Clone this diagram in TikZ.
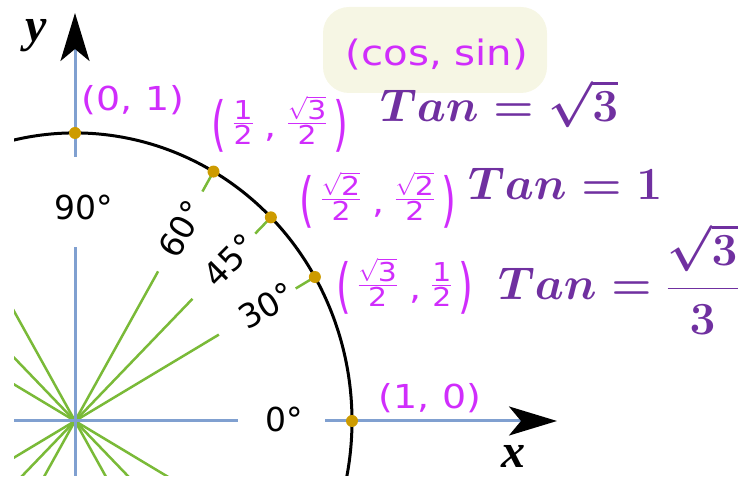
\documentclass[tikz,border=0pt]{standalone}
\usepackage{fix-cm}
\usepackage{amsmath}
\usepackage{fontspec}
\usepackage{graphicx}
\newfontfamily\dv{DejaVu Sans}
\newfontfamily\dvw[FakeStretch=1.15]{DejaVu Sans}
\newfontfamily\lser{Liberation Serif}
\usetikzlibrary{arrows.meta}
\definecolor{mag}{RGB}{208,45,252}
\definecolor{tanpurple}{RGB}{112,48,160}
\definecolor{axisblue}{RGB}{128,160,208}
\definecolor{raygreen}{RGB}{122,186,56}
\definecolor{dotgold}{RGB}{205,155,0}
\definecolor{boxbeige}{RGB}{246,246,228}
\newcommand{\lpar}{\raisebox{-12pt}{\scalebox{1}[1.8]{(}}}
\newcommand{\rpar}{\raisebox{-12pt}{\scalebox{1}[1.8]{)}}}
\newcommand{\fd}[1]{\hbox{\fontsize{26}{26}\selectfont #1}}
\newcommand{\fr}[2]{$\genfrac{}{}{}{1}{#1}{#2}$}
\newcommand{\cm}{\hspace{11pt}\raisebox{-5pt}{,}\hspace{10pt}}
\tikzset{
  coordlbl/.style={text=mag, font=\dvw\fontsize{33}{36}\selectfont, inner sep=0pt},
  deglbl/.style={text=black, font=\dv\fontsize{33}{36}\selectfont, inner sep=0pt},
  tanlbl/.style={text=tanpurple, font=\fontsize{46}{50}\selectfont\boldmath, inner sep=0pt, anchor=base west},
  axislbl/.style={font=\lser\itshape\bfseries\fontsize{48}{50}\selectfont, inner sep=0pt},
  golddot/.style={circle, fill=dotgold, inner sep=0pt, minimum size=12pt},
  ray/.style={raygreen, line width=2.5pt},
  axisline/.style={axisblue, line width=3pt},
  unitarc/.style={black, line width=3pt},
  tip/.style={-{Stealth[black,length=48pt,width=29pt,inset=12pt]}}
}
\begin{document}
\begin{tikzpicture}[x=1pt,y=1pt]
\useasboundingbox (0,0) rectangle (753,486);
\coordinate (O) at (75,65);
% cos/sin box
\node[fill=boxbeige, rounded corners=26pt, minimum width=224pt, minimum height=86pt, inner sep=0pt] (box) at (435,436) {};
\node[coordlbl, font=\dvw\fontsize{35}{38}\selectfont] (cs) at (437,431) {(cos, sin)};
\begin{scope}
\clip (14,10) rectangle (753,486);
\foreach \a in {30,45,60,120,135,150,210,225,240,300,315,330}{
  \draw[ray] (O) -- ++(\a:0.6*277 and 0.6*288);
}
\foreach \a in {30,45,60}{
  \draw[ray] (O) ++(\a:0.92*277 and 0.92*288) -- ++(\a:0.08*277 and 0.08*288);
}
\draw[axisline] (75,10) -- (75,239);
\draw[axisline] (14,65) -- (238,65);
\draw[unitarc] (O) ++(112:277 and 288) arc[start angle=112, end angle=-30, x radius=277, y radius=288];
\end{scope}
\coordinate (ytip) at (75,473);
\coordinate (xtip) at (557,65);
\draw[axisline, tip] (75,329) -- (ytip);
\draw[axisline, tip] (325,65) -- (xtip);
% dots
\foreach \a/\n in {90/d90,60/d60,45/d45,30/d30,0/d0}{
  \path (O) ++(\a:277 and 288) node[golddot] (\n) {};
}
% axis labels
\node[axislbl] (ylbl) at (36,450) {y};
\node[axislbl] (xlbl) at (513,30) {x};
% degree labels
\node[deglbl] (g90) at (84,279) {90°};
\path (O) ++(60:0.77*277 and 0.77*288) node[deglbl, rotate=60] (g60) {60°};
\path (O) ++(45:0.79*277 and 0.79*288) node[deglbl, rotate=45] (g45) {45°};
\path (O) ++(30:0.80*277 and 0.80*288) node[deglbl, rotate=30] (g30) {30°};
\node[deglbl] (g0) at (284,67) {0°};
% coordinate labels
\node[coordlbl] (c90) at (133,386) {(0, 1)};
\node[coordlbl] (c60) at (280,362) {\lpar\hspace{6pt}\fr{\fd{1}}{\fd{2}}\cm\fr{\sqrt{\fd{3}}}{\fd{2}}\hspace{6pt}\rpar};
\node[coordlbl] (c45) at (378,286) {\lpar\hspace{6pt}\fr{\sqrt{\fd{2}}}{\fd{2}}\cm\fr{\sqrt{\fd{2}}}{\fd{2}}\hspace{6pt}\rpar};
\node[coordlbl] (c30) at (405,200) {\lpar\hspace{6pt}\fr{\sqrt{\fd{3}}}{\fd{2}}\cm\fr{\fd{1}}{\fd{2}}\hspace{6pt}\rpar};
\node[coordlbl] (c0) at (430,88) {(1, 0)};
% tangent values
\node[tanlbl] (t60) at (380,364) {$Tan = \sqrt{3}$};
\node[tanlbl] (t45) at (468,286) {$Tan = 1$};
\node[tanlbl] (t30) at (498,186) {$Tan = \dfrac{\sqrt{3}}{3}$};
\end{tikzpicture}
\end{document}
